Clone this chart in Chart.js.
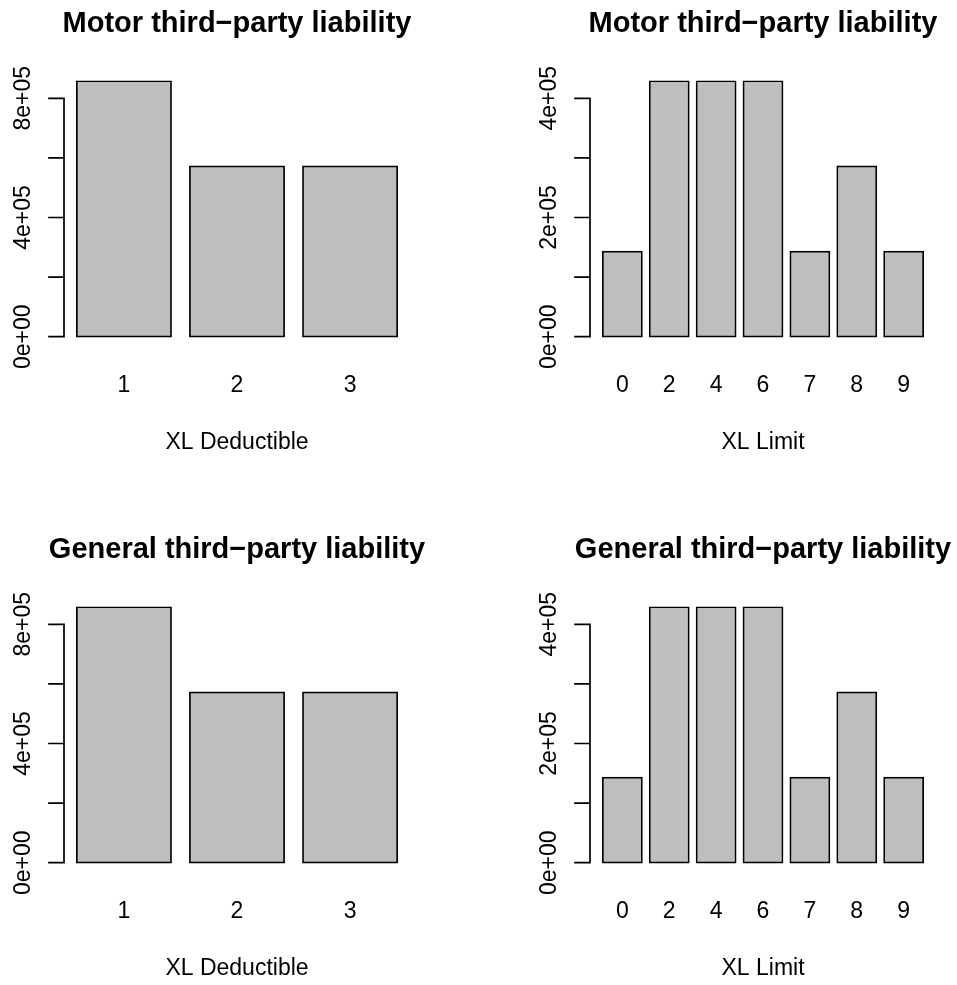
<!DOCTYPE html>
<html>
<head>
<meta charset="utf-8">
<script src="https://cdn.jsdelivr.net/npm/chart.js@4"></script>
<style>
  html, body { margin: 0; padding: 0; background: #ffffff; }
  #sheet { position: relative; width: 957px; height: 985px; overflow: hidden; background: #ffffff; }
  #sheet canvas { position: absolute; }
</style>
</head>
<body>
<div id="sheet">
  <canvas id="motorDed" width="431" height="459" style="left:0px;top:0px"></canvas>
  <canvas id="motorLim" width="431" height="459" style="left:526px;top:0px"></canvas>
  <canvas id="generalDed" width="431" height="459" style="left:0px;top:526px"></canvas>
  <canvas id="generalLim" width="431" height="459" style="left:526px;top:526px"></canvas>
</div>
<script>
// Categories
const deductibleLabels = ['1', '2', '3'];
const limitLabels = ['0', '2', '4', '6', '7', '8', '9'];

// Series values
const motorDeductible = [857143, 571429, 571429];
const motorLimit = [142857, 428571, 428571, 428571, 142857, 285714, 142857];
const generalDeductible = [857143, 571429, 571429];
const generalLimit = [142857, 428571, 428571, 428571, 142857, 285714, 142857];

// Y axis ticks and their printed labels (unlabelled ticks are left blank)
const deductibleTicks = [0, 200000, 400000, 600000, 800000];
const deductibleTickLabels = ['0e+00', '', '4e+05', '', '8e+05'];
const limitTicks = [0, 100000, 200000, 300000, 400000];
const limitTickLabels = ['0e+00', '', '2e+05', '', '4e+05'];

// Titles
const motorTitle = 'Motor third\u2212party liability';
const generalTitle = 'General third\u2212party liability';
const deductibleAxisTitle = 'XL Deductible';
const limitAxisTitle = 'XL Limit';

// Panel geometry (pixels inside each canvas)
const CANVAS_W = 431, CANVAS_H = 459;
const PLOT_LEFT = 64, PLOT_WIDTH = 346;
const ZERO_Y = 336.7, TOP_TICK_Y = 98.3;
const TITLE_BASE = 32, LABEL_BASE = 392, XTITLE_BASE = 449;
const FONT = '"Liberation Sans", Arial, Helvetica, sans-serif';
const INK = '#000000';
const BAR_FILL = '#BEBEBE';
const LINE_W = 1.7;

function makePanel(canvasId, title, xTitle, labels, values, ticks, tickLabels) {
  const n = labels.length;
  const span = 1.2 * n - 0.2;                 // bar range in user units
  const unit = PLOT_WIDTH / (span * 1.08);     // px per user unit
  const left = PLOT_LEFT + (0.04 * span - 0.1) * unit;
  const right = left + 1.2 * n * unit;

  const vmax = Math.max(...values);
  const tickMax = ticks[ticks.length - 1];
  const k = (ZERO_Y - TOP_TICK_Y) / tickMax;
  const top = ZERO_Y - 1.04 * vmax * k;
  const bottom = ZERO_Y + 0.04 * vmax * k;

  const basePlot = {
    id: 'baseAxes',
    afterDraw(chart) {
      const ctx = chart.ctx;
      const xs = chart.scales.x;
      const ys = chart.scales.y;
      const cx = PLOT_LEFT + PLOT_WIDTH / 2;
      ctx.save();
      ctx.fillStyle = INK;
      ctx.strokeStyle = INK;

      // main title
      ctx.font = 'bold 29px ' + FONT;
      ctx.textAlign = 'center';
      ctx.textBaseline = 'alphabetic';
      ctx.fillText(title, cx, TITLE_BASE);

      // category labels under the bars
      ctx.font = '23px ' + FONT;
      labels.forEach((lab, i) => {
        ctx.fillText(lab, xs.getPixelForValue(i), LABEL_BASE);
      });

      // x axis title
      ctx.fillText(xTitle, cx, XTITLE_BASE);

      // y axis: line spanning the tick range, outward ticks, rotated labels
      const y0 = ys.getPixelForValue(ticks[0]);
      const y1 = ys.getPixelForValue(tickMax);
      ctx.lineWidth = LINE_W;
      ctx.lineCap = 'square';
      ctx.beginPath();
      ctx.moveTo(PLOT_LEFT, y0);
      ctx.lineTo(PLOT_LEFT, y1);
      ticks.forEach(t => {
        const py = ys.getPixelForValue(t);
        ctx.moveTo(PLOT_LEFT, py);
        ctx.lineTo(PLOT_LEFT - 15, py);
      });
      ctx.stroke();

      ticks.forEach((t, i) => {
        const txt = tickLabels[i];
        if (!txt) return;
        const py = ys.getPixelForValue(t);
        ctx.save();
        ctx.translate(29.5, py);
        ctx.rotate(-Math.PI / 2);
        ctx.textAlign = 'center';
        ctx.textBaseline = 'alphabetic';
        ctx.fillText(txt, 0, 0);
        ctx.restore();
      });
      ctx.restore();
    }
  };

  return new Chart(document.getElementById(canvasId), {
    type: 'bar',
    data: {
      labels: labels,
      datasets: [{
        data: values,
        backgroundColor: BAR_FILL,
        borderColor: INK,
        borderWidth: LINE_W,
        borderSkipped: false,
        inflateAmount: LINE_W / 2,
        categoryPercentage: 1,
        barPercentage: 1 / 1.2
      }]
    },
    options: {
      responsive: false,
      animation: false,
      devicePixelRatio: 1,
      layout: {
        padding: {
          left: left,
          right: CANVAS_W - right,
          top: top,
          bottom: CANVAS_H - bottom
        }
      },
      plugins: {
        legend: { display: false },
        title: { display: false },
        tooltip: { enabled: false }
      },
      scales: {
        x: { type: 'category', offset: true, display: false },
        y: { type: 'linear', min: -0.04 * vmax, max: 1.04 * vmax, display: false }
      }
    },
    plugins: [basePlot]
  });
}

makePanel('motorDed', motorTitle, deductibleAxisTitle, deductibleLabels, motorDeductible, deductibleTicks, deductibleTickLabels);
makePanel('motorLim', motorTitle, limitAxisTitle, limitLabels, motorLimit, limitTicks, limitTickLabels);
makePanel('generalDed', generalTitle, deductibleAxisTitle, deductibleLabels, generalDeductible, deductibleTicks, deductibleTickLabels);
makePanel('generalLim', generalTitle, limitAxisTitle, limitLabels, generalLimit, limitTicks, limitTickLabels);
</script>
</body>
</html>
